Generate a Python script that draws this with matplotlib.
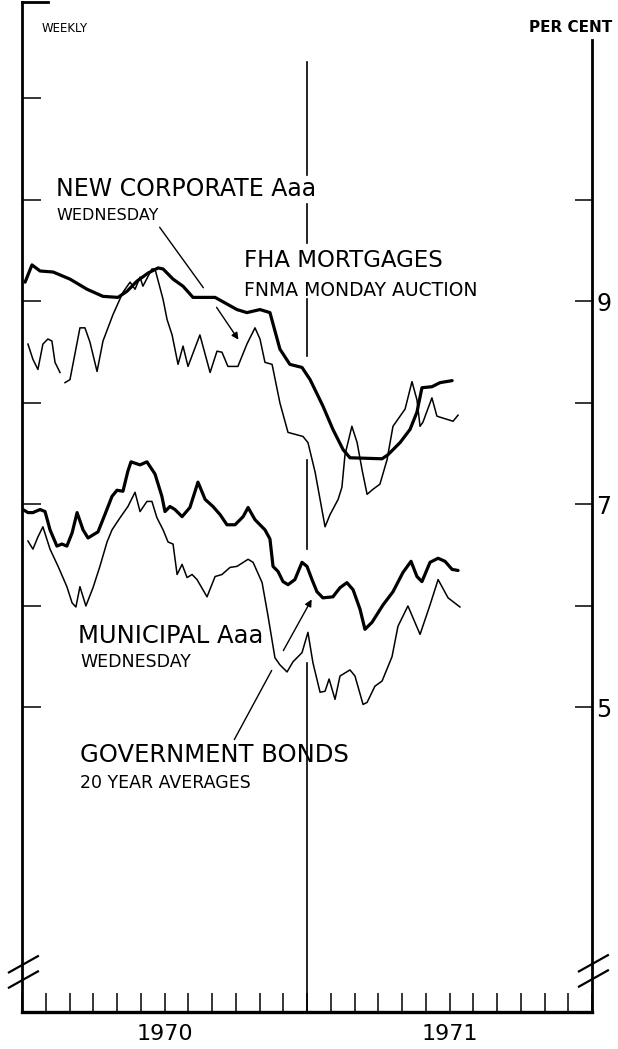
import numpy as np
import matplotlib
matplotlib.use('Agg')
import matplotlib.pyplot as plt

# x = months since Jan 1970, y = per cent
corp_m = [0.13, 0.42, 0.76, 1.31, 2.02, 2.74, 3.41, 4.04, 4.42, 4.84, 5.31, 5.73, 5.94, 6.36, 6.78, 7.20,
          8.13, 9.05, 9.47, 10.02, 10.44, 10.86, 11.28, 11.79, 12.13, 12.67, 13.09, 13.52, 13.81, 15.16,
          15.41, 15.92, 16.34, 16.63, 16.84, 17.26, 17.60, 18.11]
corp_v = [9.19, 9.36, 9.30, 9.29, 9.22, 9.12, 9.05, 9.04, 9.10, 9.20, 9.28, 9.33, 9.32, 9.22, 9.15, 9.04,
          9.04, 8.92, 8.89, 8.92, 8.89, 8.53, 8.38, 8.35, 8.23, 7.97, 7.74, 7.54, 7.46, 7.45,
          7.49, 7.61, 7.74, 7.91, 8.15, 8.16, 8.20, 8.22]

fha_m = [0.25, 0.46, 0.67, 0.88, 1.09, 1.26, 1.39, 1.60, 1.70, 1.81, 2.02, 2.44, 2.65, 2.86, 3.16, 3.41,
         3.83, 4.25, 4.55, 4.76, 4.97, 5.09, 5.47, 5.60, 5.94, 6.11, 6.32, 6.57, 6.78, 6.99, 7.49, 7.92,
         8.21, 8.42, 8.67, 9.09, 9.47, 9.81, 10.02, 10.23, 10.53, 10.86, 11.20, 11.83, 12.04, 12.34,
         12.55, 12.76, 12.97, 13.31, 13.47, 13.60, 13.89, 14.11, 14.32, 14.53, 14.78, 15.07, 15.37,
         15.62, 15.92, 16.13, 16.42, 16.63, 16.76, 16.88, 17.26, 17.47, 17.60, 18.15, 18.36]
fha_v = [8.58, 8.43, 8.33, 8.58, 8.63, 8.61, 8.40, 8.30, np.nan, 8.20, 8.23, 8.74, 8.74, 8.60, 8.31, 8.61,
         8.87, 9.09, 9.19, 9.12, 9.24, 9.15, 9.32, 9.32, 9.02, 8.82, 8.67, 8.38, 8.56, 8.36, 8.67, 8.30,
         8.51, 8.50, 8.36, 8.36, 8.58, 8.74, 8.63, 8.40, 8.38, 8.00, 7.71, 7.67, 7.61, 7.32,
         7.05, 6.78, 6.90, 7.05, 7.17, 7.49, 7.77, 7.61, 7.34, 7.10, 7.15, 7.20, 7.44,
         7.77, 7.87, 7.94, 8.21, 8.03, 7.77, 7.81, 8.05, 7.87, 7.86, 7.82, 7.88]

muni_m = [0.04, 0.25, 0.46, 0.76, 0.97, 1.18, 1.47, 1.68, 1.89, 2.11, 2.32, 2.57, 2.78, 3.20, 3.49, 3.79,
          4.00, 4.25, 4.46, 4.59, 4.97, 5.26, 5.60, 5.89, 6.02, 6.23, 6.44, 6.74, 7.07, 7.41, 7.71, 8.04,
          8.34, 8.63, 8.97, 9.31, 9.52, 9.81, 10.23, 10.44, 10.57, 10.78, 10.99, 11.20, 11.49, 11.79,
          12.00, 12.21, 12.42, 12.67, 13.09, 13.39, 13.68, 13.94, 14.23, 14.44, 14.74, 15.20, 15.62,
          16.04, 16.38, 16.63, 16.84, 17.18, 17.52, 17.81, 18.11, 18.36]
muni_v = [6.95, 6.92, 6.92, 6.95, 6.93, 6.75, 6.59, 6.61, 6.59, 6.72, 6.92, 6.75, 6.67, 6.73, 6.90, 7.08,
          7.14, 7.13, 7.33, 7.42, 7.39, 7.42, 7.30, 7.08, 6.93, 6.98, 6.95, 6.88, 6.97, 7.22, 7.05, 6.98,
          6.90, 6.80, 6.80, 6.88, 6.97, 6.85, 6.75, 6.66, 6.39, 6.34, 6.24, 6.21, 6.26, 6.43,
          6.39, 6.26, 6.14, 6.08, 6.09, 6.18, 6.23, 6.16, 5.97, 5.77, 5.84, 6.01, 6.14,
          6.33, 6.44, 6.29, 6.24, 6.43, 6.47, 6.44, 6.36, 6.35]

govt_m = [0.25, 0.46, 0.67, 0.88, 1.18, 1.52, 1.89, 2.11, 2.27, 2.44, 2.69, 2.99, 3.28, 3.58, 3.79, 4.13,
          4.46, 4.76, 4.97, 5.26, 5.47, 5.68, 5.94, 6.15, 6.36, 6.53, 6.74, 6.95, 7.16, 7.37, 7.79, 8.13,
          8.42, 8.76, 9.05, 9.52, 9.73, 10.11, 10.36, 10.65, 10.86, 11.16, 11.41, 11.79, 12.04, 12.25,
          12.55, 12.76, 12.93, 13.18, 13.39, 13.81, 14.02, 14.36, 14.53, 14.86, 15.16, 15.58, 15.83,
          16.25, 16.76, 17.18, 17.52, 17.94, 18.44]
govt_v = [6.64, 6.56, 6.68, 6.78, 6.56, 6.39, 6.19, 6.03, 5.99, 6.19, 6.00, 6.18, 6.39, 6.63, 6.75, 6.87,
          6.98, 7.12, 6.93, 7.03, 7.03, 6.87, 6.75, 6.63, 6.61, 6.31, 6.41, 6.28, 6.31, 6.26, 6.09, 6.29,
          6.31, 6.38, 6.39, 6.46, 6.43, 6.23, 5.90, 5.49, 5.42, 5.35, 5.45, 5.54, 5.74, 5.44,
          5.15, 5.16, 5.28, 5.08, 5.31, 5.37, 5.31, 5.03, 5.05, 5.21, 5.26, 5.50, 5.80,
          6.00, 5.72, 6.01, 6.26, 6.08, 5.99]

years = ['1970', '1971']
right_ticks = [5, 6, 7, 8, 9, 10]
right_labels = ['5', '', '7', '', '9', '']

plt.rcParams['font.family'] = ['Liberation Sans Narrow', 'DejaVu Sans']

W, H = 618, 1049
fig = plt.figure(figsize=(W / 100, H / 100), dpi=100)
ax = fig.add_axes([22 / W, 37 / H, 570 / W, 1010 / H])
ax.set_xlim(0, 24)
ax.set_ylim(2, 11.95)

ax.plot(corp_m, corp_v, color='black', lw=2.3, solid_capstyle='round', solid_joinstyle='round')
ax.plot(fha_m, fha_v, color='black', lw=1.1)
ax.plot(muni_m, muni_v, color='black', lw=2.3, solid_capstyle='round', solid_joinstyle='round')
ax.plot(govt_m, govt_v, color='black', lw=1.1)

# year divider (broken where labels and lines cross)
for y0, y1 in [(2, 5.44), (6.56, 7.44), (8.46, 9.02), (9.58, 9.96), (10.25, 11.36)]:
    ax.plot([12, 12], [y0, y1], color='black', lw=1.2)

ax.spines['top'].set_visible(False)
ax.spines['left'].set_linewidth(2)
ax.spines['bottom'].set_linewidth(2.4)
ax.spines['right'].set_linewidth(2)
ax.spines['right'].set_bounds(2, 11.58)
ax.plot([0, 1.1], [11.95, 11.95], color='black', lw=2, clip_on=False)

ax.xaxis.remove_overlapping_locs = False
ax.set_xticks(range(0, 25))
ax.set_xticklabels([])
ax.set_xticks([6, 18], minor=True)
ax.set_xticklabels(years, minor=True)
ax.tick_params(axis='x', which='major', direction='in', length=14, width=1.1)
ax.tick_params(axis='x', which='minor', length=0, labelsize=16, pad=9)
ax.set_yticks([5, 6, 7, 8, 9, 10, 11])
ax.set_yticklabels([])
ax.tick_params(axis='y', direction='in', length=14, width=1.1)

ax2 = ax.twinx()
ax2.set_ylim(ax.get_ylim())
for s in ax2.spines.values():
    s.set_visible(False)
ax2.set_yticks(right_ticks)
ax2.set_yticklabels(right_labels)
ax2.tick_params(axis='y', direction='in', length=12, width=1.1, labelsize=17, pad=3)

# axis break marks
for dy in [0, 0.15]:
    ax.plot([-0.55, 0.67], [2.24 + dy, 2.40 + dy], color='black', lw=1.6, clip_on=False)
    ax.plot([23.45, 24.67], [2.25 + dy, 2.41 + dy], color='black', lw=1.6, clip_on=False)

def fp(x, y):
    return (x, H - y)

def lab(x, y, s, size, **kw):
    fig.text(x / W, 1 - y / H, s, fontsize=size, va='center', ha='left', **kw)

lab(42, 28, 'WEEKLY', 8.5)
fig.text(612 / W, 1 - 28 / H, 'PER CENT', fontsize=11, fontweight='bold', va='center', ha='right')
lab(56, 189, 'NEW CORPORATE Aaa', 17)
lab(56, 215, 'WEDNESDAY', 11.5)
lab(244, 261, 'FHA MORTGAGES', 16.5)
lab(244, 290, 'FNMA MONDAY AUCTION', 13.5)
lab(78, 636, 'MUNICIPAL Aaa', 17.5)
lab(80, 662, 'WEDNESDAY', 12.5)
lab(80, 755, 'GOVERNMENT BONDS', 17.5)
lab(80, 783, '20 YEAR AVERAGES', 12.5)

ax.annotate('', xy=fp(205, 290), xytext=fp(158, 225), xycoords='figure pixels',
            arrowprops=dict(arrowstyle='-', color='black', lw=1.0))
ax.annotate('', xy=fp(240, 342), xytext=fp(215, 305), xycoords='figure pixels',
            arrowprops=dict(arrowstyle='-|>', color='black', lw=1.0, mutation_scale=10))
ax.annotate('', xy=fp(313, 597), xytext=fp(282, 653), xycoords='figure pixels',
            arrowprops=dict(arrowstyle='-|>', color='black', lw=1.0, mutation_scale=10))
ax.annotate('', xy=fp(273, 668), xytext=fp(233, 742), xycoords='figure pixels',
            arrowprops=dict(arrowstyle='-', color='black', lw=1.0))

fig.savefig('out.png', dpi=100)
